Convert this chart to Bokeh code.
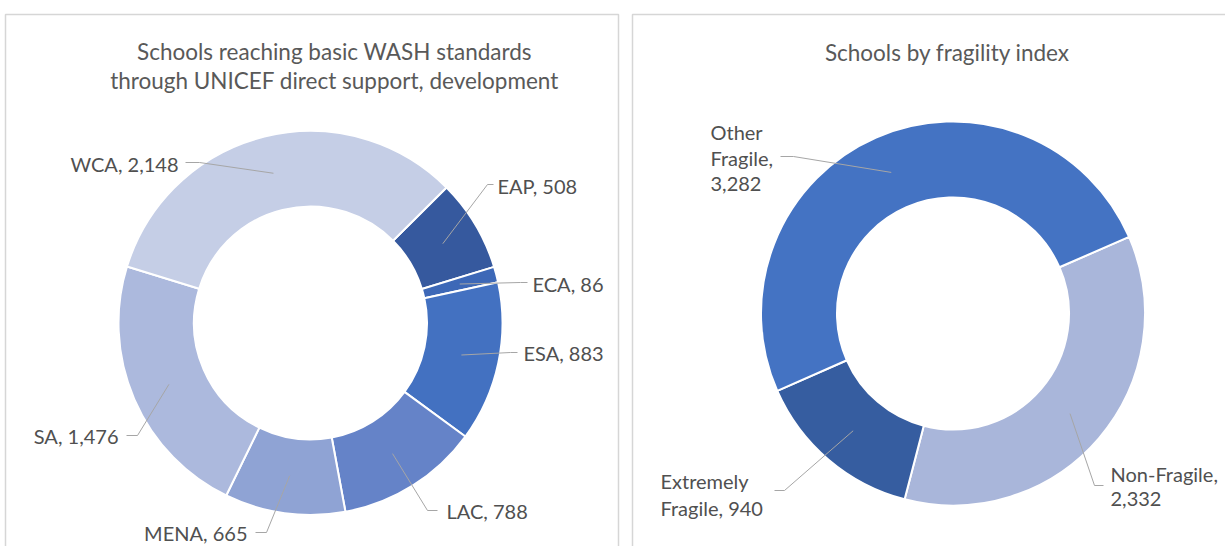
import math
from bokeh.plotting import figure
from bokeh.models import Range1d, ColumnDataSource
from bokeh.embed import file_html
from bokeh.resources import INLINE
from bokeh.core.properties import value

# ---------------- data ----------------
regions = ["EAP", "ECA", "ESA", "LAC", "MENA", "SA", "WCA"]
region_schools = [508, 86, 883, 788, 665, 1476, 2148]

fragility = ["Non-Fragile", "Extremely Fragile", "Other Fragile"]
fragility_schools = [2332, 940, 3282]

title_left = ["Schools reaching basic WASH standards",
              "through UNICEF direct support, development"]
title_right = ["Schools by fragility index"]

# ---------------- styles / layout ----------------
region_colors = ["#36599E", "#3D68B7", "#4371C1", "#6583C8", "#8FA3D4", "#ACB9DD", "#C5CEE6"]
fragility_colors = ["#A9B6DA", "#365DA0", "#4473C3"]
FONT = "Lato"
LABEL_COLOR = "#505050"
TITLE_COLOR = "#595959"
LEADER_COLOR = "#A6A6A6"
LABEL_SIZE = "20px"
TITLE_SIZE = "22.5px"

W, H = 1225, 546


def Y(y):
    return H - y


p = figure(width=W, height=H, x_range=Range1d(0, W), y_range=Range1d(0, H),
           output_backend="svg", toolbar_location=None, min_border=0,
           outline_line_color=None, x_axis_location=None, y_axis_location=None,
           background_fill_color="white", border_fill_color="white")
p.xgrid.visible = False
p.ygrid.visible = False

# panel frames
p.quad(left=[5, 632], right=[618, 1260], top=[Y(14), Y(14)], bottom=[Y(580), Y(580)],
       fill_color=None, line_color="#D6D6D6", line_width=1.5)


def donut(cx, cy, r_in, r_out, start_bearing, vals, colors):
    total = float(sum(vals))
    b = start_bearing
    starts, ends, mids = [], [], []
    for v in vals:
        sweep = 360.0 * v / total
        starts.append(math.radians(90 - (b + sweep)))
        ends.append(math.radians(90 - b))
        mids.append(b + sweep / 2)
        b += sweep
    n = len(vals)
    src = ColumnDataSource(dict(x=[cx] * n, y=[Y(cy)] * n, start=starts, end=ends, color=colors))
    p.annular_wedge(x="x", y="y", inner_radius=r_in, outer_radius=r_out,
                    start_angle="start", end_angle="end", fill_color="color",
                    line_color="white", line_width=2, source=src)
    rm = (r_in + r_out) / 2.0
    return [(cx + rm * math.sin(math.radians(m)), cy - rm * math.cos(math.radians(m))) for m in mids]


def labels(cats, vals, anchors, layout):
    for cat, v, (ax, ay) in zip(cats, vals, anchors):
        L = layout[cat]
        words = f"{cat}, {v:,}".split(" ")
        groups = L.get("groups", [list(range(len(words)))])
        lines = [" ".join(words[i] for i in g) for g in groups]
        for line, ty in zip(lines, L["ty"]):
            p.text(x=[L["tx"]], y=[Y(ty)], text=[line], text_align=L["align"],
                   text_baseline="middle", text_font=value(FONT),
                   text_font_size=LABEL_SIZE, text_color=LABEL_COLOR)
        pts = L["stub"] + [(ax, ay)]
        p.line(x=[q[0] for q in pts], y=[Y(q[1]) for q in pts],
               line_color=LEADER_COLOR, line_width=1)


# left donut
left_anchors = donut(310, 322.5, 116.5, 192, 45.1, region_schools, region_colors)
left_layout = {
    "WCA": dict(tx=178, ty=[163], align="right", stub=[(185, 162), (199, 162)]),
    "EAP": dict(tx=497, ty=[185], align="left", stub=[(493, 184), (487, 184)]),
    "ECA": dict(tx=532, ty=[283], align="left", stub=[(527, 282), (520, 282)]),
    "ESA": dict(tx=523, ty=[352], align="left", stub=[(517, 352), (510, 352)]),
    "LAC": dict(tx=446, ty=[510], align="left", stub=[(437, 510), (427, 510)]),
    "MENA": dict(tx=247, ty=[532], align="right", stub=[(255, 532), (266, 532)]),
    "SA": dict(tx=118, ty=[435], align="right", stub=[(126, 435), (137, 435)]),
}
labels(regions, region_schools, left_anchors, left_layout)

# right donut
right_anchors = donut(952.5, 313, 116, 192, 66.5, fragility_schools, fragility_colors)
right_layout = {
    "Other Fragile": dict(tx=710, ty=[131, 157, 183], align="left", groups=[[0], [1], [2]],
                          stub=[(780, 156), (793, 156)]),
    "Extremely Fragile": dict(tx=660, ty=[480, 507], align="left", groups=[[0], [1, 2]],
                              stub=[(774, 490), (784, 490)]),
    "Non-Fragile": dict(tx=1110, ty=[473, 498], align="left", groups=[[0], [1]],
                        stub=[(1103, 485), (1094, 485)]),
}
labels(fragility, fragility_schools, right_anchors, right_layout)

# titles
for line, ty in zip(title_left, [51, 80]):
    p.text(x=[334], y=[Y(ty)], text=[line], text_align="center", text_baseline="middle",
           text_font=value(FONT), text_font_size=TITLE_SIZE, text_color=TITLE_COLOR)
for line, ty in zip(title_right, [52]):
    p.text(x=[947], y=[Y(ty)], text=[line], text_align="center", text_baseline="middle",
           text_font=value(FONT), text_font_size=TITLE_SIZE, text_color=TITLE_COLOR)

open("out.html", "w").write(file_html(p, INLINE))
